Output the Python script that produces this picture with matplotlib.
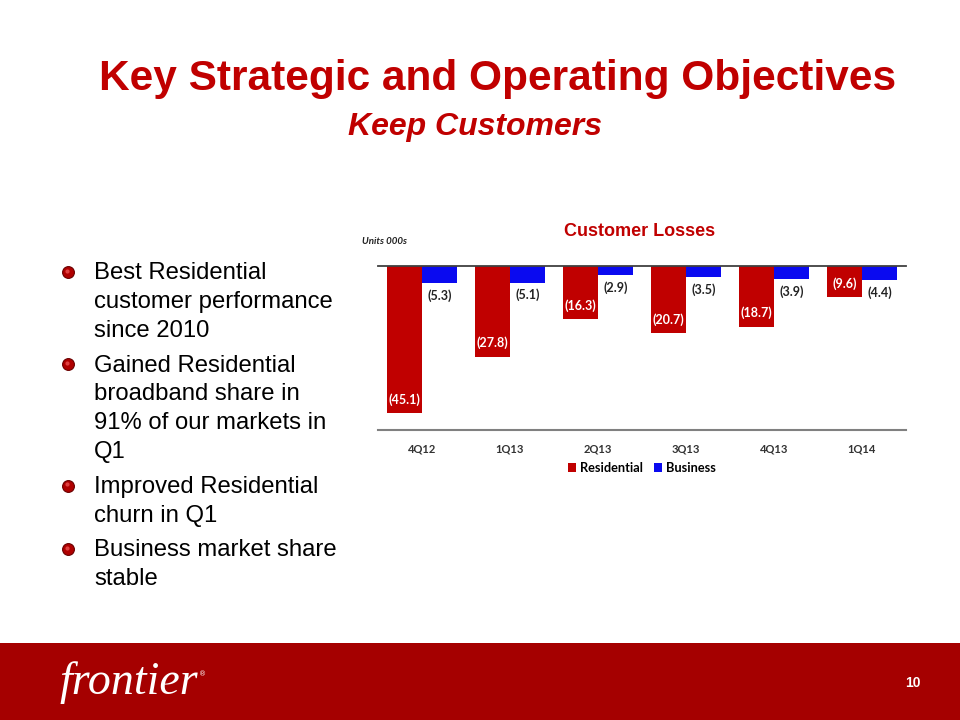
import matplotlib.pyplot as plt
import numpy as np
from matplotlib.patches import Rectangle
from matplotlib.lines import Line2D

# data (units 000s, losses shown as negatives)
quarters = ["4Q12", "1Q13", "2Q13", "3Q13", "4Q13", "1Q14"]
residential = [-45.1, -27.8, -16.3, -20.7, -18.7, -9.6]
business = [-5.3, -5.1, -2.9, -3.5, -3.9, -4.4]

bullets = [
    ["Best Residential", "customer performance", "since 2010"],
    ["Gained Residential", "broadband share in", "91% of our markets in", "Q1"],
    ["Improved Residential", "churn in Q1"],
    ["Business market share", "stable"],
]

RED = "#C00000"
BLUE = "#0A0AF0"
W, H = 960, 720
SANS = ["Liberation Sans", "DejaVu Sans"]

fig = plt.figure(figsize=(9.6, 7.2), dpi=100)
fig.patch.set_facecolor("white")


def fx(x):
    return x / W


def fy(y):
    return 1 - y / H


# slide titles
fig.text(fx(498), fy(79), "Key Strategic and Operating Objectives", color=RED,
         fontsize=30.5, fontweight="bold", family=SANS, ha="center", va="center")
fig.text(fx(475), fy(127), "Keep Customers", color=RED, fontsize=23,
         fontweight="bold", style="italic", family=SANS, ha="center", va="center")

# bullet list
y = 273
for item in bullets:
    fig.add_artist(Line2D([fx(68)], [fy(y - 1)], marker="o", markersize=8.5, transform=fig.transFigure,
                          markerfacecolor="#B00000", markeredgecolor="#6A0000", markeredgewidth=0.8))
    fig.add_artist(Line2D([fx(66.5)], [fy(y - 2.5)], marker="o", markersize=3, transform=fig.transFigure,
                          markerfacecolor="#E04040", markeredgecolor="none"))
    for line in item:
        fig.text(fx(94), fy(y), line, fontsize=17.2, family=SANS,
                 color="black", va="center", ha="left")
        y += 28.9
    y += 5.8

# chart
ax = fig.add_axes([fx(378), fy(430), fx(906) - fx(378), (430 - 266) / H])
x = np.arange(len(quarters))
bw = 0.4
ax.bar(x - bw / 2, residential, bw, color=RED, label="Residential")
ax.bar(x + bw / 2, business, bw, color=BLUE, label="Business")
ax.set_xlim(-0.5, len(quarters) - 0.5)
ax.set_ylim(-50.3, 0)

for i in range(len(quarters)):
    r = residential[i]
    b = business[i]
    ax.annotate(f"({abs(r):.1f})", (x[i] - bw / 2, r), xytext=(0, 10), textcoords="offset points",
                ha="center", va="center", color="white", fontsize=9, fontweight="bold", family="Lato")
    ax.annotate(f"({abs(b):.1f})", (x[i] + bw / 2, b), xytext=(0, -9), textcoords="offset points",
                ha="center", va="center", color="#222222", fontsize=9, fontweight="bold", family="Lato")

ax.set_xticks(x)
ax.set_xticklabels(quarters, fontsize=8, fontweight="bold", family="Lato", color="#333333")
ax.tick_params(axis="x", length=0, pad=10)
ax.set_yticks([])
for s in ["left", "right"]:
    ax.spines[s].set_visible(False)
ax.spines["top"].set_color("#404040")
ax.spines["bottom"].set_color("#808080")
ax.spines["top"].set_linewidth(1.3)
ax.spines["bottom"].set_linewidth(1.5)

leg = ax.legend(loc="center", bbox_to_anchor=(0.5, (430 - 468) / (430 - 266)), ncol=2, frameon=False,
                prop={"family": "Lato", "weight": "bold", "size": 9.2}, handlelength=0.6, handleheight=0.8,
                handletextpad=0.3, columnspacing=0.9)

fig.text(fx(640), fy(231), "Customer Losses", color=RED, fontsize=13, fontweight="bold",
         family=SANS, ha="center", va="center")
fig.text(fx(362), fy(242), "Units 000s", color="#222222", fontsize=7, fontweight="bold",
         style="italic", family="Lato", ha="left", va="center")

# footer band
fig.patches.append(Rectangle((0, 0), 1, fy(643), transform=fig.transFigure,
                             facecolor="#A50000", edgecolor="none"))
fig.text(fx(59), fy(683), "frontier", color="white", fontsize=33, style="italic",
         family="Liberation Serif", ha="left", va="center")
fig.text(fx(199), fy(674), "\u00ae", color="white", fontsize=5, family="DejaVu Sans",
         ha="left", va="center")
fig.text(fx(913), fy(683), "10", color="white", fontsize=10, fontweight="bold",
         family=SANS, ha="center", va="center")

fig.savefig("out.png", dpi=100)
